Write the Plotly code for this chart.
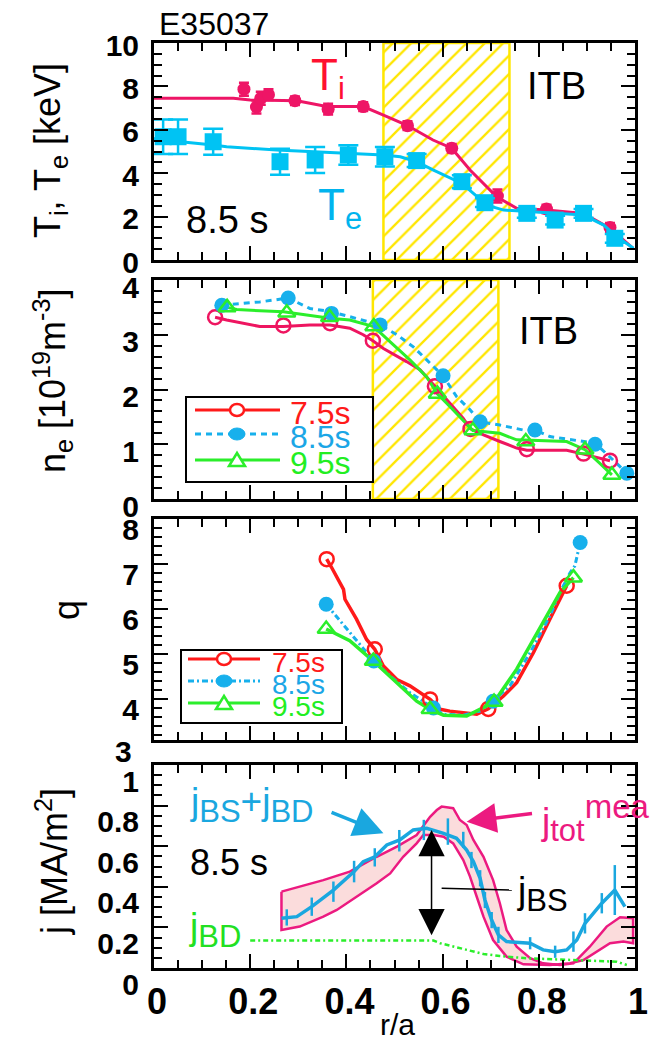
import plotly.graph_objects as go

W, H = 666, 1042
FONT = "Liberation Sans, Arial, Helvetica, sans-serif"

# colours
TI_COL = "#EE1566"
TE_COL = "#00C3F3"
RED = "#FF1A1A"
PINK_RED = "#EE1560"
BLUE = "#17B0EC"
GREEN = "#2BEE2B"
JTOT_LINE = "#EC1A80"
JTOT_FILL = "#FBDCDC"
JBS_COL = "#1AA7DF"
YELLOW = "#FFE600"

# ---------------- (a) temperatures at 8.5 s ----------------
ti_r = [0.187, 0.213, 0.222, 0.238, 0.293, 0.362, 0.435, 0.527, 0.619, 0.714, 0.816, 0.948]
ti_kev = [7.87, 7.05, 7.45, 7.62, 7.34, 6.95, 7.07, 6.19, 5.15, 2.95, 2.35, 1.50]
ti_err = [0.30, 0.30, 0.30, 0.25, 0.20, 0.25, 0.20, 0.20, 0.20, 0.30, 0.20, 0.20]
ti_fit_r = [0.0, 0.165, 0.2, 0.297, 0.359, 0.435, 0.477, 0.525, 0.58, 0.619, 0.657,
            0.712, 0.754, 0.816, 0.893, 0.948, 0.996]
ti_fit = [7.45, 7.45, 7.37, 7.34, 7.07, 7.07, 6.68, 6.22, 5.53, 5.15, 4.15,
          2.92, 2.38, 2.30, 2.15, 1.46, 0.54]

te_r = [0.019, 0.05, 0.123, 0.262, 0.335, 0.404, 0.48, 0.546, 0.64, 0.688, 0.775, 0.834, 0.893, 0.958]
te_kev = [5.68, 5.68, 5.45, 4.53, 4.61, 4.84, 4.76, 4.58, 3.61, 2.64, 2.15, 1.84, 2.15, 1.00]
te_err = [0.80, 0.80, 0.60, 0.60, 0.60, 0.45, 0.45, 0.30, 0.30, 0.20, 0.20, 0.20, 0.20, 0.20]
te_fit_r = [0.0, 0.019, 0.123, 0.151, 0.255, 0.477, 0.512, 0.546, 0.58, 0.64, 0.664,
            0.692, 0.727, 0.775, 0.893, 0.935, 0.962, 0.997]
te_fit = [5.60, 5.53, 5.30, 5.22, 5.07, 4.84, 4.76, 4.53, 4.15, 3.53, 3.07,
          2.53, 2.30, 2.23, 2.07, 1.61, 1.07, 0.54]

itb_a = [0.477, 0.739]          # ITB foot / shoulder, panel (a)
itb_b = [0.455, 0.716]          # ITB foot / shoulder, panel (b)

# ---------------- (b) electron density ----------------
ne75_r = [0.127, 0.269, 0.366, 0.455, 0.584, 0.658, 0.775, 0.893, 0.948]
ne75 = [3.32, 3.17, 3.21, 2.89, 2.06, 1.28, 0.91, 0.83, 0.70]
ne75_fit_r = [0.127, 0.151, 0.22, 0.269, 0.324, 0.366, 0.407, 0.435, 0.455, 0.477, 0.525, 0.553,
              0.584, 0.615, 0.643, 0.658, 0.685, 0.719, 0.754, 0.775, 0.858, 0.893, 0.948]
ne75_fit = [3.32, 3.27, 3.15, 3.15, 3.18, 3.18, 3.12, 3.00, 2.89, 2.75, 2.51, 2.36,
            2.06, 1.75, 1.47, 1.28, 1.17, 1.05, 0.93, 0.89, 0.89, 0.82, 0.70]

ne85_r = [0.141, 0.279, 0.369, 0.470, 0.601, 0.678, 0.792, 0.917, 0.983]
ne85 = [3.54, 3.67, 3.39, 3.18, 2.25, 1.41, 1.26, 1.00, 0.47]
ne85_fit_r = [0.141, 0.22, 0.279, 0.324, 0.369, 0.407, 0.47, 0.505, 0.539, 0.567, 0.601,
              0.629, 0.657, 0.678, 0.719, 0.768, 0.792, 0.823, 0.917, 0.962, 0.983]
ne85_fit = [3.54, 3.60, 3.67, 3.48, 3.42, 3.33, 3.18, 3.00, 2.78, 2.54, 2.25,
            1.87, 1.63, 1.41, 1.35, 1.26, 1.26, 1.14, 1.02, 0.65, 0.47]

ne95_r = [0.152, 0.276, 0.365, 0.457, 0.589, 0.663, 0.773, 0.896, 0.952]
ne95 = [3.50, 3.40, 3.32, 3.15, 1.92, 1.25, 1.05, 0.90, 0.44]
ne95_fit_r = [0.152, 0.172, 0.269, 0.366, 0.407, 0.457, 0.491, 0.532, 0.567, 0.589, 0.615,
              0.643, 0.663, 0.719, 0.754, 0.858, 0.896, 0.927, 0.952]
ne95_fit = [3.50, 3.46, 3.42, 3.30, 3.27, 3.15, 2.87, 2.54, 2.23, 1.92, 1.69,
            1.44, 1.25, 1.20, 1.08, 1.05, 0.90, 0.65, 0.44]

# ---------------- (c) safety factor ----------------
q75_r = [0.359, 0.459, 0.574, 0.695, 0.858]
q75 = [7.11, 5.11, 4.00, 3.79, 6.52]
q75_fit_r = [0.359, 0.369, 0.394, 0.397, 0.421, 0.442, 0.459, 0.477, 0.505, 0.532, 0.574, 0.595,
             0.615, 0.643, 0.671, 0.695, 0.726, 0.754, 0.789, 0.823, 0.844, 0.858]
q75_fit = [7.11, 6.93, 6.44, 6.22, 5.78, 5.33, 5.11, 4.74, 4.44, 4.30, 4.00, 3.78,
           3.74, 3.70, 3.67, 3.79, 4.07, 4.37, 5.04, 5.78, 6.22, 6.52]

q85_r = [0.358, 0.457, 0.581, 0.705, 0.886]
q85 = [6.11, 4.85, 3.81, 3.96, 7.48]
q85_fit_r = [0.358, 0.414, 0.457, 0.491, 0.532, 0.581, 0.602, 0.643, 0.678, 0.705, 0.74,
             0.782, 0.823, 0.844, 0.865, 0.875, 0.886]
q85_fit = [6.11, 5.41, 4.85, 4.52, 4.15, 3.81, 3.67, 3.65, 3.74, 3.96, 4.30,
           5.04, 5.85, 6.37, 6.81, 6.96, 7.48]

q95_r = [0.358, 0.456, 0.574, 0.707, 0.872]
q95 = [5.56, 4.85, 3.78, 3.94, 6.70]
q95_fit_r = [0.358, 0.407, 0.456, 0.505, 0.546, 0.574, 0.602, 0.65, 0.707, 0.754, 0.789,
             0.823, 0.844, 0.872]
q95_fit = [5.56, 5.30, 4.85, 4.37, 3.96, 3.78, 3.65, 3.63, 3.94, 4.67, 5.33,
           6.00, 6.37, 6.70]

# ---------------- (d) current density at 8.5 s ----------------
jtot_up_r = [0.265, 0.303, 0.352, 0.407, 0.463, 0.505, 0.546, 0.574, 0.588, 0.598, 0.622, 0.636,
             0.65, 0.664, 0.685, 0.705, 0.719, 0.733, 0.754, 0.782, 0.809, 0.844, 0.872, 0.906,
             0.941, 0.969, 0.996]
jtot_up = [0.376, 0.401, 0.433, 0.475, 0.548, 0.598, 0.655, 0.745, 0.778, 0.795, 0.787, 0.729,
           0.704, 0.631, 0.548, 0.433, 0.319, 0.187, 0.105, 0.048, 0.023, 0.015, 0.023, 0.105,
           0.204, 0.250, 0.245]
jtot_lo_r = [0.265, 0.303, 0.352, 0.38, 0.421, 0.463, 0.491, 0.518, 0.546, 0.56, 0.581, 0.602,
             0.622, 0.643, 0.657, 0.671, 0.685, 0.705, 0.733, 0.768, 0.823, 0.865, 0.893, 0.92,
             0.948, 0.976, 0.996]
jtot_lo = [0.187, 0.204, 0.253, 0.286, 0.351, 0.417, 0.466, 0.548, 0.614, 0.655, 0.655, 0.647,
           0.614, 0.532, 0.450, 0.351, 0.253, 0.138, 0.056, 0.018, 0.015, 0.023, 0.039, 0.080,
           0.122, 0.130, 0.122]

jbsbd_r = [0.265, 0.297, 0.328, 0.373, 0.416, 0.435, 0.459, 0.484, 0.511, 0.539, 0.567, 0.602,
           0.629, 0.65, 0.664, 0.678, 0.688, 0.702, 0.716, 0.733, 0.782, 0.809, 0.834, 0.858,
           0.879, 0.896, 0.931, 0.958, 0.979]
jbsbd = [0.245, 0.253, 0.302, 0.384, 0.475, 0.524, 0.548, 0.606, 0.631, 0.680, 0.688, 0.663,
         0.639, 0.581, 0.524, 0.442, 0.335, 0.236, 0.163, 0.130, 0.122, 0.089, 0.080, 0.089,
         0.138, 0.220, 0.319, 0.384, 0.302]
jbsbd_pt_r = [0.276, 0.328, 0.373, 0.416, 0.459, 0.510, 0.561, 0.611, 0.643, 0.660, 0.678, 0.688,
              0.702, 0.716, 0.782, 0.834, 0.872, 0.896, 0.931, 0.958]
jbsbd_pt = [0.249, 0.302, 0.376, 0.475, 0.545, 0.627, 0.680, 0.672, 0.631, 0.532, 0.442, 0.335,
            0.236, 0.163, 0.122, 0.080, 0.130, 0.220, 0.319, 0.384]
jbsbd_err = [0.04, 0.045, 0.05, 0.053, 0.045, 0.053, 0.05, 0.065, 0.04, 0.04, 0.04, 0.04,
             0.04, 0.04, 0.03, 0.03, 0.05, 0.05, 0.05, 0.123]

jbd_r = [0.20, 0.581, 0.595, 0.65, 0.685, 0.719, 0.775, 0.962, 0.983]
jbd = [0.135, 0.135, 0.122, 0.089, 0.069, 0.059, 0.048, 0.031, 0.015]

T_RANGE = [0, 10]
NE_RANGE = [0, 4]
Q_RANGE = [3.1, 8]
J_RANGE = [0, 1]


def fx(x):
    """figure pixel column -> paper x"""
    return x / W


def fy(y):
    """figure pixel row -> paper y"""
    return 1 - y / H


X_DOM = [fx(154), fx(635)]
DOMS = {1: [fy(260), fy(43)], 2: [fy(499), fy(280)], 3: [fy(740), fy(519)], 4: [fy(968), fy(765)]}

fig = go.Figure()


def ax(n):
    return ("x" if n == 1 else f"x{n}"), ("y" if n == 1 else f"y{n}")


def add_line(n, x, y, color, width=3, dash="solid"):
    xa, ya = ax(n)
    fig.add_trace(go.Scatter(x=x, y=y, mode="lines", xaxis=xa, yaxis=ya,
                             line=dict(color=color, width=width, dash=dash),
                             showlegend=False, hoverinfo="skip"))


def add_pts(n, x, y, symbol, color, size, fill=None, err=None, errw=0, lw=2.5):
    xa, ya = ax(n)
    marker = dict(symbol=symbol, size=size, color=fill if fill else color,
                  line=dict(color=color, width=lw))
    kw = {}
    if err is not None:
        kw["error_y"] = dict(type="data", array=err, visible=True, color=color,
                             thickness=2.5, width=errw)
    fig.add_trace(go.Scatter(x=x, y=y, mode="markers", xaxis=xa, yaxis=ya, marker=marker,
                             showlegend=False, hoverinfo="skip", **kw))


def add_itb(n, edges, yr):
    xa, ya = ax(n)
    a, b = edges
    fig.add_trace(go.Scatter(x=[a, a, b, b, a], y=[yr[0], yr[1], yr[1], yr[0], yr[0]],
                             mode="lines", fill="toself", xaxis=xa, yaxis=ya,
                             line=dict(color=YELLOW, width=2.5),
                             fillcolor="rgba(0,0,0,0)",
                             fillpattern=dict(shape="/", fgcolor=YELLOW, bgcolor="rgba(255,255,255,0)",
                                              size=13, solidity=0.18),
                             showlegend=False, hoverinfo="skip"))


# (a)
add_itb(1, itb_a, T_RANGE)
add_line(1, ti_fit_r, ti_fit, TI_COL, 3)
add_pts(1, ti_r, ti_kev, "circle", TI_COL, 13, err=ti_err, errw=5, lw=0)
add_line(1, te_fit_r, te_fit, TE_COL, 3)
add_pts(1, te_r, te_kev, "square", TE_COL, 17, err=te_err, errw=10, lw=0)

# (b)
add_itb(2, itb_b, NE_RANGE)
add_line(2, ne75_fit_r, ne75_fit, PINK_RED, 3)
add_line(2, ne85_fit_r, ne85_fit, BLUE, 3, "6px,5px")
add_line(2, ne95_fit_r, ne95_fit, GREEN, 3)
add_pts(2, ne75_r, ne75, "circle-open", PINK_RED, 14)
add_pts(2, ne85_r, ne85, "circle", BLUE, 15, lw=0)
add_pts(2, ne95_r, ne95, "triangle-up-open", GREEN, 15)

# (c)
add_line(3, q75_fit_r, q75_fit, RED, 3.5)
add_line(3, q85_fit_r, q85_fit, BLUE, 3, "6px,3px,2px,3px")
add_line(3, q95_fit_r, q95_fit, GREEN, 3.5)
add_pts(3, q75_r, q75, "circle-open", RED, 14)
add_pts(3, q85_r, q85, "circle", BLUE, 15, lw=0)
add_pts(3, q95_r, q95, "triangle-up-open", GREEN, 15)

# (d)
band_r = jtot_up_r + jtot_lo_r[::-1] + [jtot_up_r[0]]
band_j = jtot_up + jtot_lo[::-1] + [jtot_up[0]]
fig.add_trace(go.Scatter(x=band_r, y=band_j, mode="lines", fill="toself", xaxis="x4", yaxis="y4",
                         fillcolor=JTOT_FILL, line=dict(color=JTOT_LINE, width=2.5),
                         showlegend=False, hoverinfo="skip"))
add_line(4, jbd_r, jbd, GREEN, 2.5, "5px,3px,2px,3px")
add_line(4, jbsbd_r, jbsbd, JBS_COL, 3.5)
add_pts(4, jbsbd_pt_r, jbsbd_pt, "circle", JBS_COL, 1, err=jbsbd_err, errw=0, lw=0)

# ---------------- axes ----------------
common = dict(showline=True, linecolor="black", linewidth=3, mirror="allticks", automargin=False,
              ticks="inside", tickwidth=2, tickcolor="black", showgrid=False, zeroline=False,
              tickfont=dict(family=FONT, size=30, color="black", weight="bold"))

yspec = {1: (T_RANGE, 2, 0.5, 2), 2: (NE_RANGE, 1, 0.2, 7),
         3: (Q_RANGE, 1, 0.2, 10), 4: (J_RANGE, 0.2, 0.05, 16)}
layout_axes = {}
for n in range(1, 5):
    xa, ya = ax(n)
    xname = "xaxis" if n == 1 else f"xaxis{n}"
    yname = "yaxis" if n == 1 else f"yaxis{n}"
    layout_axes[xname] = dict(common, domain=X_DOM, anchor=ya, range=[0, 1], dtick=0.2, tick0=0,
                              ticklen=14, minor=dict(ticks="inside", dtick=0.05, ticklen=8,
                                                     tickwidth=2, tickcolor="black"),
                              showticklabels=(n == 4))
    rng, dt, mdt, shift = yspec[n]
    layout_axes[yname] = dict(common, domain=DOMS[n], anchor=xa, range=rng, dtick=dt, tick0=0,
                              ticklen=14, ticklabelshift=shift, ticklabelstandoff=6,
                              minor=dict(ticks="inside", dtick=mdt, ticklen=8,
                                         tickwidth=2, tickcolor="black"))
layout_axes["xaxis4"]["tickfont"] = dict(family=FONT, size=36, color="black", weight="bold")
layout_axes["xaxis4"]["ticklabelshift"] = 3

fig.update_layout(width=W, height=H, margin=dict(l=0, r=0, t=0, b=0, pad=0), autosize=False,
                  paper_bgcolor="white", plot_bgcolor="white", showlegend=False,
                  template="none", **layout_axes)


# ---------------- text ----------------
def note(x, y, text, size, color="black", xanchor="center", yanchor="middle", angle=0, weight="normal"):
    fig.add_annotation(x=fx(x), y=fy(y), xref="paper", yref="paper", text=text, showarrow=False,
                       xanchor=xanchor, yanchor=yanchor, textangle=angle,
                       font=dict(family=FONT, size=size, color=color, weight=weight))


note(157, 24, "E35037", 32, xanchor="left")
note(50, 151, "T<sub>i</sub>, T<sub>e</sub> [keV]", 36, angle=-90)
note(52, 381, "n<sub>e</sub> [10<sup>19</sup>m<sup>-3</sup>]", 36, angle=-90)
note(66, 610, "q", 36, angle=-90)
note(52, 862, "j [MA/m<sup>2</sup>]", 36, angle=-90)
note(397, 1024, "r/a", 30)
note(134, 751, "3", 30, xanchor="right", weight="bold")

# panel (a)
note(328, 78, "T<sub>i</sub>", 44, color="#FF1030")
note(340, 208, "T<sub>e</sub>", 44, color="#00B4EE")
note(556, 86, "ITB", 38)
note(227, 220, "8.5 s", 38)
# panel (b)
note(548, 331, "ITB", 38)
# panel (d)
note(229, 862, "8.5 s", 36)
SUBS = "<sub><span style='font-size:31px'>{}</span></sub>"
note(188, 805, "j" + SUBS.format("BS") + "+j" + SUBS.format("BD"), 37, color=JBS_COL, xanchor="left")
note(539, 818, "j" + SUBS.format("tot") + "<sup><span style='font-size:33px'>mea</span></sup>", 37,
     color=JTOT_LINE, xanchor="left")
note(515, 894, "j" + SUBS.format("BS"), 37, xanchor="left")
note(187, 930, "j" + SUBS.format("BD"), 37, color="#22E022", xanchor="left")

# arrows in panel (d)
fig.add_annotation(x=0.477, y=0.664, ax=0.366, ay=0.77, xref="x4", yref="y4", axref="x4", ayref="y4",
                   text="", showarrow=True, arrowhead=2, arrowsize=1.7, arrowwidth=3.5,
                   arrowcolor=JBS_COL)
fig.add_annotation(x=0.65, y=0.721, ax=0.789, ay=0.762, xref="x4", yref="y4", axref="x4", ayref="y4",
                   text="", showarrow=True, arrowhead=2, arrowsize=1.7, arrowwidth=3.5,
                   arrowcolor=JTOT_LINE)
fig.add_annotation(x=0.577, y=0.68, ax=0.577, ay=0.154, xref="x4", yref="y4", axref="x4", ayref="y4",
                   text="", showarrow=True, arrowhead=2, startarrowhead=2, arrowside="end+start",
                   arrowsize=3.5, startarrowsize=3.5, arrowwidth=1.5, arrowcolor="black")
fig.add_shape(type="line", xref="x4", yref="y4", x0=0.598, y0=0.393, x1=0.744, y1=0.384,
              line=dict(color="black", width=1.5))


# ---------------- hand-drawn keys for (b) and (c) ----------------
def key(box, rows, x0, x1, xm, xt, size):
    fig.add_shape(type="rect", xref="paper", yref="paper", x0=fx(box[0]), x1=fx(box[2]),
                  y0=fy(box[3]), y1=fy(box[1]), line=dict(color="black", width=2),
                  fillcolor="white", layer="above")
    for yl, col, dash, sym, tcol, label in rows:
        fig.add_shape(type="line", xref="paper", yref="paper", x0=fx(x0), x1=fx(x1),
                      y0=fy(yl), y1=fy(yl), line=dict(color=col, width=3, dash=dash), layer="above")
        common_s = dict(xref="paper", yref="paper", xsizemode="pixel", ysizemode="pixel",
                        xanchor=fx(xm), yanchor=fy(yl), layer="above")
        if sym == "open":
            fig.add_shape(type="circle", x0=-7, x1=7, y0=-6, y1=6, fillcolor="white",
                          line=dict(color=col, width=2.5), **common_s)
        elif sym == "dot":
            fig.add_shape(type="circle", x0=-8, x1=8, y0=-6, y1=6, fillcolor=col,
                          line=dict(color=col, width=1), **common_s)
        else:
            fig.add_shape(type="path", path="M-8,-6 L8,-6 L0,7 Z", fillcolor="white",
                          line=dict(color=col, width=2.5), **common_s)
        fig.add_annotation(x=fx(xt), y=fy(yl + 3), xref="paper", yref="paper", text=label,
                           showarrow=False, xanchor="left", yanchor="middle",
                           font=dict(family=FONT, size=size, color=tcol))


key((186, 397, 373, 482),
    [(410, RED, "solid", "open", RED, "7.5s"),
     (434, BLUE, "6px,5px", "dot", "#1BA6E6", "8.5s"),
     (460, GREEN, "solid", "tri", "#22EE22", "9.5s")],
    195, 280, 237, 288, 32)
key((181, 650, 342, 723),
    [(659, RED, "solid", "open", RED, "7.5s"),
     (681, BLUE, "6px,3px,2px,3px", "dot", "#1BA6E6", "8.5s"),
     (703, GREEN, "solid", "tri", "#22EE22", "9.5s")],
    188, 260, 224, 270, 28)

fig.write_html("out.html")
